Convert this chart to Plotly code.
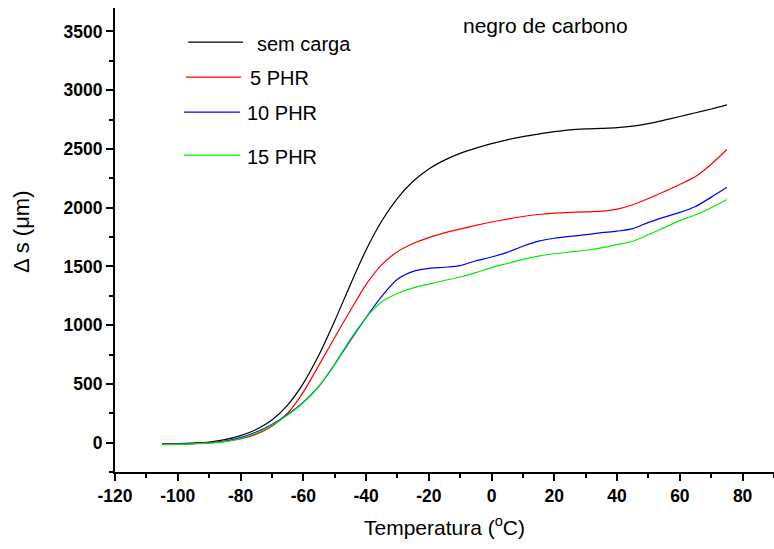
import plotly.graph_objects as go

# Temperature (°C) and displacement Δs (µm) for each carbon-black loading
temperatura = [-105, -100, -95, -90, -85, -80, -75, -70, -65, -60, -55, -50, -45, -40,
               -35, -30, -25, -20, -15, -10, -5, 0, 5, 10, 15, 20, 25, 30, 35, 40,
               45, 50, 55, 60, 65, 70, 75]

sem_carga = [-10, -8, -3, 5, 25, 60, 112, 193, 320, 505, 748, 1036, 1345, 1640,
             1887, 2080, 2225, 2330, 2405, 2462, 2507, 2545, 2578, 2605, 2627, 2647,
             2663, 2671, 2675, 2681, 2694, 2716, 2745, 2776, 2808, 2840, 2875]

phr_5 = [-12, -10, -6, 0, 12, 32, 72, 140, 250, 430, 660, 895, 1125, 1345,
         1515, 1625, 1695, 1745, 1785, 1818, 1850, 1878, 1903, 1925, 1942, 1953,
         1960, 1964, 1970, 1988, 2025, 2078, 2137, 2198, 2265, 2370, 2495]

phr_10 = [-12, -12, -8, -2, 12, 42, 90, 155, 240, 345, 480, 665, 870, 1065,
          1245, 1390, 1458, 1484, 1493, 1507, 1548, 1580, 1620, 1672, 1715, 1740,
          1756, 1770, 1787, 1800, 1822, 1875, 1920, 1960, 2010, 2090, 2174]

phr_15 = [-15, -14, -10, -5, 8, 35, 82, 148, 235, 340, 480, 670, 880, 1065,
          1200, 1270, 1318, 1350, 1380, 1410, 1447, 1490, 1525, 1560, 1588, 1608,
          1623, 1638, 1658, 1685, 1714, 1770, 1830, 1890, 1940, 2000, 2070]

series_names = ["sem carga", "5 PHR", "10 PHR", "15 PHR"]
series_values = [sem_carga, phr_5, phr_10, phr_15]
series_colors = ["#000000", "#ff0000", "#0000ff", "#00ee00"]

x_ticks = [-120, -100, -80, -60, -40, -20, 0, 20, 40, 60, 80]
y_ticks = [0, 500, 1000, 1500, 2000, 2500, 3000, 3500]

FONT = "Liberation Sans, Arial, sans-serif"

fig = go.Figure()
for name, vals, col in zip(series_names, series_values, series_colors):
    fig.add_trace(go.Scatter(
        x=temperatura, y=vals, mode="lines", name=name,
        line=dict(color=col, width=1.2, shape="spline", smoothing=0.8),
        showlegend=False,
    ))

# Hand-placed legend: sample line + label for each series
legend_items = [
    # (x0, x1, y_line, x_text, y_text)
    (-96.7, -79.2, 3410, -75.4, 3390),
    (-97.4, -79.8, 3112, -77.6, 3100),
    (-98.0, -80.2, 2814, -78.6, 2810),
    (-98.0, -80.2, 2448, -78.6, 2435),
]
for (x0, x1, yl, xt, yt), name, col in zip(legend_items, series_names, series_colors):
    fig.add_shape(type="line", xref="x", yref="y", x0=x0, x1=x1, y0=yl, y1=yl,
                  line=dict(color=col, width=1.2))
    fig.add_annotation(x=xt, y=yt, xref="x", yref="y", text=name, showarrow=False,
                       xanchor="left", yanchor="middle",
                       font=dict(family=FONT, size=20, color="#000000"))

fig.add_annotation(x=-9.6, y=3553, xref="x", yref="y", text="negro de carbono",
                   showarrow=False, xanchor="left", yanchor="middle",
                   font=dict(family=FONT, size=21, color="#000000"))

# y-axis title, rotated, slightly above the plot's vertical centre
fig.add_annotation(x=-0.143, y=0.517, xref="paper", yref="paper", text="Δ s (μm)",
                   showarrow=False, textangle=-90, xanchor="center", yanchor="middle",
                   font=dict(family=FONT, size=22, color="#000000"))

axis_common = dict(
    showline=True, linecolor="#000000", linewidth=2,
    ticks="outside", ticklen=7, tickwidth=2, tickcolor="#000000",
    showgrid=False, zeroline=False, mirror=False,
    tickfont=dict(family=FONT, size=17.5, color="#000000"),
)

fig.update_layout(
    width=774, height=549,
    margin=dict(l=115, r=0, t=8, b=77),
    paper_bgcolor="#ffffff", plot_bgcolor="#ffffff",
    xaxis=dict(
        range=[-120, 90], tickmode="array", tickvals=x_ticks,
        ticktext=[f"<b>{v}</b>" for v in x_ticks],
        minor=dict(tickmode="linear", dtick=10, tick0=-120, ticks="outside",
                   ticklen=4, tickwidth=2, tickcolor="#000000", showgrid=False),
        title=dict(text="Temperatura (<sup>o</sup>C)",
                   font=dict(family=FONT, size=21, color="#000000"), standoff=15),
        **axis_common,
    ),
    yaxis=dict(
        range=[-250, 3700], tickmode="array", tickvals=y_ticks,
        ticktext=[f"<b>{v}</b>" for v in y_ticks],
        minor=dict(tickmode="linear", dtick=250, tick0=-250, ticks="outside",
                   ticklen=4, tickwidth=2, tickcolor="#000000", showgrid=False),
        **axis_common,
    ),
)

fig.write_html("out.html")
